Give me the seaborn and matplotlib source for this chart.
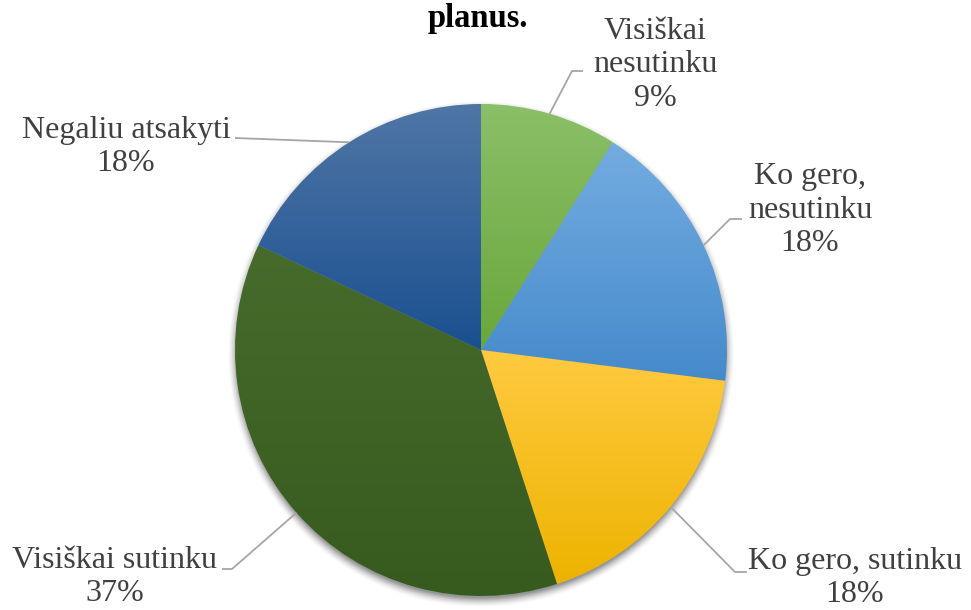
import numpy as np
import matplotlib
matplotlib.use("Agg")
import matplotlib.pyplot as plt
from matplotlib.colors import LinearSegmentedColormap
import seaborn as sns

# Survey answers and their shares (%)
categories = ["Visiškai\nnesutinku", "Ko gero,\nnesutinku", "Ko gero, sutinku",
              "Visiškai sutinku", "Negaliu atsakyti"]
shares = [9, 18, 18, 37, 18]
title_tail = "planus."

# Vertical gradient per slice: (top colour, bottom colour)
slice_grad = [("#8BBF68", "#69A73B"),
              ("#74ACE1", "#458ACB"),
              ("#FFCA40", "#EDB300"),
              ("#466B2B", "#375B1F"),
              ("#5076A6", "#1A5090")]

# Label layout in pixel space: text centre, elbow, end of leader line
label_layout = [
    dict(text=(655, 65), elbow=(572, 71), end=(583, 71)),
    dict(text=(810, 210), elbow=(730, 219), end=(742, 219)),
    dict(text=(855, 578), elbow=(735, 572), end=(747, 572)),
    dict(text=(115, 577), elbow=(232, 569), end=(222, 569)),
    dict(text=(126, 147), elbow=None, end=(235, 138)),
]

W, H = 971, 610
sns.set_theme(style="white")
plt.rcParams["font.family"] = ["Liberation Serif", "DejaVu Serif"]

fig = plt.figure(figsize=(W / 100, H / 100), dpi=100)
ax = fig.add_axes([0, 0, 1, 1])


def py(y):
    """pixel row -> data y"""
    return H - y


cx, cy, R = 481, py(350), 246

# soft drop shadow under the pie
gx = np.linspace(cx - R - 25, cx + R + 25, 600)
gy = np.linspace(cy - R - 25, cy + R + 25, 600)
XX, YY = np.meshgrid(gx, gy)
d = np.hypot(XX - cx, YY - (cy - 4)) - R
alpha = 0.55 * np.clip(1 - (d + 2) / 10, 0, 1) ** 1.6
shadow = np.zeros(XX.shape + (4,))
shadow[..., :3] = 0.25
shadow[..., 3] = alpha
ax.imshow(shadow, extent=(gx[0], gx[-1], gy[0], gy[-1]), origin="lower",
          zorder=1, interpolation="bilinear")

wedges, _ = ax.pie(shares, startangle=90, counterclock=False, center=(cx, cy),
                   radius=R, wedgeprops=dict(linewidth=0, edgecolor="none"),
                   frame=True)
ax.set_xlim(0, W)
ax.set_ylim(0, H)
ax.set_aspect("equal")
ax.axis("off")

for w, (top, bottom) in zip(wedges, slice_grad):
    w.set_facecolor("none")
    w.set_zorder(2)
    ext = w.get_path().get_extents(w.get_patch_transform())
    cmap = LinearSegmentedColormap.from_list("g", [bottom, top])
    grad = np.linspace(0, 1, 256).reshape(-1, 1)
    im = ax.imshow(grad, cmap=cmap, origin="lower", aspect="auto",
                   extent=(ext.x0, ext.x1, ext.y0, ext.y1),
                   zorder=2, interpolation="bilinear")
    im.set_clip_path(w)

# labels with leader lines
for w, cat, val, lay in zip(wedges, categories, shares, label_layout):
    mid = np.deg2rad((w.theta1 + w.theta2) / 2)
    sx, sy = cx + R * np.cos(mid), cy + R * np.sin(mid)
    pts = [(sx, sy)]
    if lay["elbow"] is not None:
        pts.append((lay["elbow"][0], py(lay["elbow"][1])))
    pts.append((lay["end"][0], py(lay["end"][1])))
    xs, ys = zip(*pts)
    ax.plot(xs, ys, color="#A6A6A6", lw=1.3, zorder=3, solid_capstyle="butt")
    ax.text(lay["text"][0], py(lay["text"][1]), f"{cat}\n{val}%",
            ha="center", va="center", fontsize=23, color="#404040",
            linespacing=1.19, zorder=4)

ax.text(478, py(18), title_tail, ha="center", va="center", fontsize=23.5,
        fontweight="bold", color="black")

fig.savefig("out.png", dpi=100)
